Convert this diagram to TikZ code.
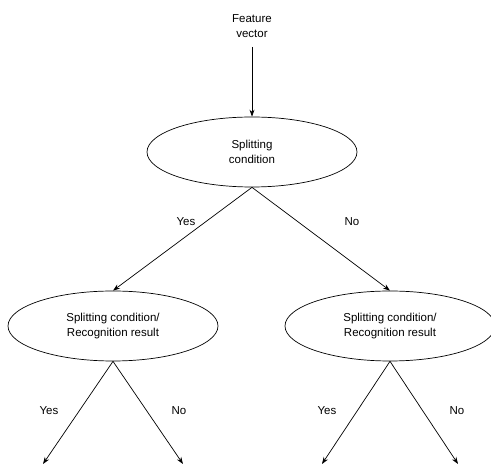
\documentclass[tikz,border=0pt]{standalone}
\usepackage{fontspec}
\setmainfont{Liberation Sans}
\usetikzlibrary{arrows.meta,shapes.geometric}
\begin{document}
\begin{tikzpicture}[x=1pt,y=-1pt,
  every node/.style={font=\fontsize{11.5}{15}\selectfont,align=center},
  oval/.style={draw,ellipse,line width=0.7pt,minimum width=210pt,minimum height=70pt,inner sep=0pt},
  conn/.style={line width=0.7pt,-{Stealth[length=7pt,width=5pt]}},
  lbl/.style={inner sep=1pt}]
\useasboundingbox (0,0) rectangle (491,465);
\node (fv) at (252,26) {Feature\\vector};
\node[oval] (root) at (252,152) {Splitting\\condition};
\node[oval] (left) at (113,326) {Splitting condition/\\Recognition result};
\node[oval] (right) at (390,326) {Splitting condition/\\Recognition result};
\coordinate (fvb) at (252,47);
\coordinate (l1) at (43,464);
\coordinate (l2) at (183,464);
\coordinate (r1) at (322,464);
\coordinate (r2) at (458,464);
\draw[conn] (fvb) -- (root.north);
\draw[conn] (root.south) -- (left.north);
\draw[conn] (root.south) -- (right.north);
\draw[conn] (left.south) -- (l1);
\draw[conn] (left.south) -- (l2);
\draw[conn] (right.south) -- (r1);
\draw[conn] (right.south) -- (r2);
\node[lbl] (y0) at (186,222) {Yes};
\node[lbl] (n0) at (352,222) {No};
\node[lbl] (y1) at (49,411) {Yes};
\node[lbl] (n1) at (179,411) {No};
\node[lbl] (y2) at (327,411) {Yes};
\node[lbl] (n2) at (457,411) {No};
\end{tikzpicture}
\end{document}
